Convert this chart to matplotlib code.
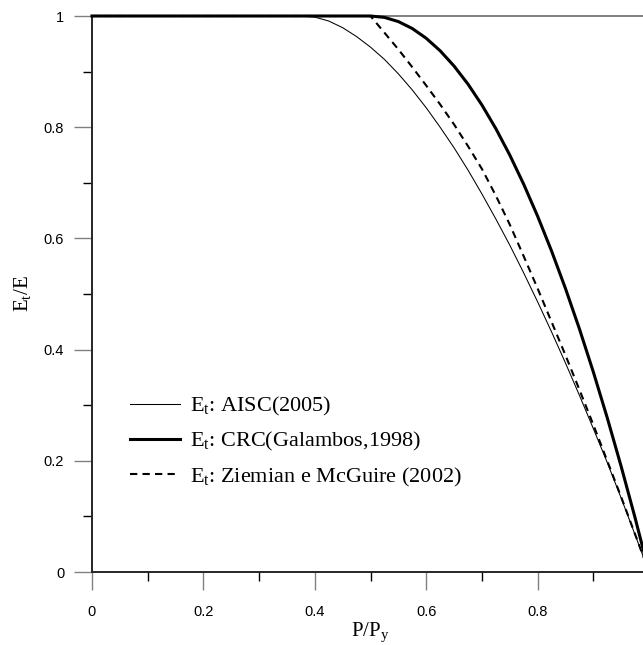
import matplotlib
matplotlib.use('Agg')
import matplotlib.pyplot as plt
from matplotlib.ticker import MultipleLocator

plt.rcParams['font.family'] = ['Liberation Sans', 'DejaVu Sans']
plt.rcParams['mathtext.fontset'] = 'custom'
plt.rcParams['mathtext.rm'] = 'Liberation Serif'
plt.rcParams['mathtext.it'] = 'Liberation Serif:italic'

# valores
p_aisc = [0.0, 0.375, 0.4, 0.425, 0.45, 0.475, 0.5, 0.525, 0.55, 0.575, 0.6, 0.625, 0.65,
          0.675, 0.7, 0.725, 0.75, 0.775, 0.8, 0.825, 0.85, 0.875, 0.9, 0.925, 0.95, 0.975, 1.0]
et_aisc = [1.0, 1.0, 0.998, 0.991, 0.979, 0.963, 0.944, 0.922, 0.896, 0.867, 0.835, 0.800, 0.763,
           0.723, 0.680, 0.635, 0.588, 0.538, 0.486, 0.432, 0.376, 0.318, 0.258, 0.197, 0.133, 0.067, 0.0]

p_crc = [0.0, 0.5, 0.525, 0.55, 0.575, 0.6, 0.625, 0.65, 0.675, 0.7, 0.725, 0.75, 0.775,
         0.8, 0.825, 0.85, 0.875, 0.9, 0.925, 0.95, 0.975, 1.0]
et_crc = [1.0, 1.0, 0.9975, 0.99, 0.9775, 0.96, 0.9375, 0.91, 0.8775, 0.84, 0.7975, 0.75, 0.6975,
          0.64, 0.5775, 0.51, 0.4375, 0.36, 0.2775, 0.19, 0.0975, 0.0]

p_zm = [0.0, 0.5, 0.525, 0.55, 0.575, 0.6, 0.625, 0.65, 0.675, 0.7, 0.725, 0.75, 0.775,
        0.8, 0.825, 0.85, 0.875, 0.9, 0.925, 0.95, 0.975, 1.0]
et_zm = [1.0, 1.0, 0.97, 0.94, 0.908, 0.875, 0.841, 0.805, 0.766, 0.725, 0.677, 0.625, 0.568,
         0.51, 0.45, 0.39, 0.328, 0.265, 0.2, 0.135, 0.068, 0.0]

rotulos = ['E$_\\mathrm{t}$: AISC(2005)',
           'E$_\\mathrm{t}$: CRC(Galambos,1998)',
           'E$_\\mathrm{t}$: Ziemian e McGuire (2002)']

x_ticks = [0, 0.2, 0.4, 0.6, 0.8]
x_labels = ['0', '0.2', '0.4', '0.6', '0.8']
y_ticks = [0, 0.2, 0.4, 0.6, 0.8, 1.0]
y_labels = ['0', '0.2', '0.4', '0.6', '0.8', '1']

fig = plt.figure(figsize=(6.43, 6.45), dpi=100)
ax = fig.add_axes([92 / 643, 73 / 645, 557 / 643, 556 / 645])

ax.plot(p_aisc, et_aisc, color='black', lw=0.75, label=rotulos[0], clip_on=False, zorder=3)
ax.plot(p_crc, et_crc, color='black', lw=2.2, label=rotulos[1], clip_on=False, zorder=3)
ax.plot(p_zm, et_zm, color='black', lw=1.5, dashes=(3.5, 2.5), label=rotulos[2], clip_on=False, zorder=3)

ax.set_xlim(0, 1)
ax.set_ylim(0, 1)
ax.set_xticks(x_ticks)
ax.set_xticklabels(x_labels)
ax.set_yticks(y_ticks)
ax.set_yticklabels(y_labels)
ax.xaxis.set_minor_locator(MultipleLocator(0.1))
ax.yaxis.set_minor_locator(MultipleLocator(0.1))

ax.tick_params(which='major', direction='out', length=13, width=1, color='#808080', labelsize=10.5)
ax.tick_params(which='minor', direction='out', length=6.5, width=1, color='black')
ax.tick_params(axis='x', which='major', pad=11)
ax.tick_params(axis='y', which='major', pad=7)

for s in ['left', 'bottom']:
    ax.spines[s].set_color('#262626')
    ax.spines[s].set_linewidth(1.4)
ax.spines['top'].set_color('#808080')
ax.spines['top'].set_linewidth(1.4)
ax.spines['right'].set_visible(False)

ax.set_xlabel('P/P$_\\mathrm{y}$', fontsize=15, family='Liberation Serif', labelpad=1)
ax.set_ylabel('E$_\\mathrm{t}$/E', fontsize=15, family='Liberation Serif', labelpad=8)

leg = ax.legend(loc='upper left', bbox_to_anchor=(130 / 643, 1 - 395 / 645),
                bbox_transform=fig.transFigure, frameon=False, borderpad=0, borderaxespad=0,
                handlelength=2.25, handletextpad=0.45, labelspacing=0.55,
                prop={'family': 'Liberation Serif', 'size': 16})

fig.savefig('out.png', dpi=100)
